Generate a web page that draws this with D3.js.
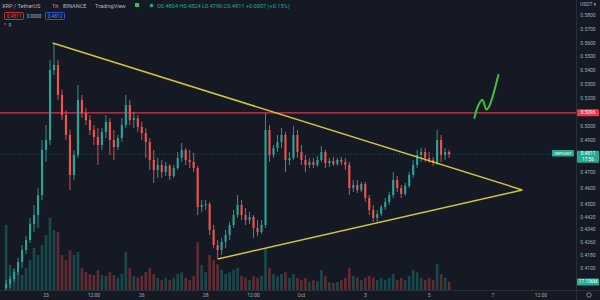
<!DOCTYPE html>
<html>
<head>
<meta charset="utf-8">
<script src="https://cdn.jsdelivr.net/npm/d3@7"></script>
<style>
  html, body { margin: 0; padding: 0; background: #151924; }
  svg { display: block; }
  text { font-family: Roboto, "Noto Sans", "DejaVu Sans", sans-serif; }
</style>
</head>
<body>
<svg id="chart" width="600" height="300"></svg>
<script>
// XRP / TetherUS, 3-hour bars from 21 Sep 2022 18:00 UTC
const startTime = Date.UTC(2022, 8, 21, 18);
const stepHours = 3;
const firstOpen = 0.3975;
const closes = [0.4000,0.4031,0.4075,0.4138,0.4213,0.4275,0.4375,0.4431,0.4556,0.4838,
  0.4900,0.5404,0.5440,0.5224,0.5080,0.4936,0.4681,0.4806,0.5188,0.5094,
  0.5044,0.4972,0.4922,0.4869,0.4958,0.5030,0.4900,0.4856,0.4914,0.5008,
  0.5152,0.5044,0.5058,0.4994,0.4950,0.4888,0.4775,0.4713,0.4744,0.4700,
  0.4738,0.4675,0.4725,0.4788,0.4838,0.4775,0.4763,0.4725,0.4481,0.4494,
  0.4500,0.4338,0.4244,0.4213,0.4263,0.4306,0.4369,0.4431,0.4494,0.4431,
  0.4400,0.4419,0.4350,0.4325,0.4369,0.4972,0.4806,0.4850,0.4888,0.4936,
  0.4775,0.4788,0.4936,0.4825,0.4775,0.4744,0.4763,0.4744,0.4775,0.4825,
  0.4756,0.4769,0.4750,0.4775,0.4763,0.4744,0.4600,0.4619,0.4588,0.4625,
  0.4538,0.4463,0.4413,0.4438,0.4481,0.4513,0.4556,0.4650,0.4600,0.4563,
  0.4613,0.4681,0.4744,0.4806,0.4825,0.4788,0.4775,0.4756,0.4900,0.4806,
  0.4825,0.4811];
const highs = [0.4025,0.4050,0.4100,0.4163,0.4244,0.4300,0.4413,0.4494,0.4600,0.4900,
  0.5008,0.5476,0.5598,0.5476,0.5260,0.5116,0.4972,0.4838,0.5296,0.5224,
  0.5130,0.5080,0.5008,0.4986,0.4986,0.5080,0.5058,0.4972,0.4936,0.5058,
  0.5224,0.5188,0.5102,0.5080,0.5030,0.4986,0.4914,0.4838,0.4788,0.4775,
  0.4763,0.4750,0.4744,0.4825,0.4881,0.4850,0.4838,0.4819,0.4738,0.4525,
  0.4525,0.4513,0.4369,0.4275,0.4288,0.4338,0.4388,0.4463,0.4556,0.4525,
  0.4475,0.4450,0.4431,0.4400,0.4400,0.5094,0.5008,0.4869,0.4936,0.4986,
  0.4958,0.4825,0.5001,0.4972,0.4869,0.4806,0.4788,0.4788,0.4800,0.4862,
  0.4838,0.4788,0.4794,0.4788,0.4794,0.4788,0.4763,0.4650,0.4650,0.4638,
  0.4638,0.4556,0.4494,0.4463,0.4494,0.4538,0.4575,0.4700,0.4675,0.4619,
  0.4631,0.4700,0.4775,0.4838,0.4850,0.4850,0.4825,0.4794,0.4972,0.4936,
  0.4850,0.4838];
const lows = [0.3950,0.3975,0.4013,0.4056,0.4100,0.4188,0.4256,0.4325,0.4350,0.4525,
  0.4763,0.4869,0.5368,0.5188,0.5044,0.4900,0.4588,0.4650,0.4788,0.5058,
  0.5008,0.4936,0.4869,0.4744,0.4838,0.4914,0.4806,0.4775,0.4838,0.4888,
  0.4986,0.5008,0.4986,0.4958,0.4900,0.4788,0.4713,0.4631,0.4663,0.4663,
  0.4675,0.4650,0.4663,0.4713,0.4763,0.4744,0.4725,0.4700,0.4431,0.4450,
  0.4463,0.4306,0.4225,0.4163,0.4181,0.4225,0.4275,0.4350,0.4413,0.4400,
  0.4369,0.4375,0.4288,0.4300,0.4313,0.4350,0.4763,0.4788,0.4825,0.4850,
  0.4700,0.4744,0.4775,0.4788,0.4744,0.4700,0.4725,0.4725,0.4731,0.4763,
  0.4725,0.4731,0.4738,0.4738,0.4744,0.4713,0.4556,0.4575,0.4569,0.4575,
  0.4513,0.4431,0.4388,0.4388,0.4425,0.4463,0.4494,0.4538,0.4575,0.4538,
  0.4550,0.4600,0.4663,0.4725,0.4763,0.4763,0.4756,0.4738,0.4744,0.4763,
  0.4775,0.4788];
// volume in millions of XRP
const volumes = [139,53,43,38,32,47,64,90,75,96,
  117,154,128,124,75,64,85,75,81,47,
  38,34,32,43,32,30,38,32,26,34,
  81,47,30,26,30,38,47,34,26,21,
  26,21,26,34,38,26,21,30,102,53,
  38,75,64,55,43,34,38,43,47,30,
  26,21,30,26,30,90,47,34,30,34,
  38,26,34,26,21,26,17,21,19,43,
  30,17,15,17,21,26,47,30,26,21,
  26,30,26,21,26,21,26,34,21,26,
  21,30,43,38,26,21,26,21,55,34,
  26,17.196];

// axis labels
const priceTicks = [0.58,0.57,0.56,0.55,0.54,0.53,0.52,0.50,0.49,0.47,0.46,0.45,0.442,0.434,0.426,0.418,0.41];
const timeTicks = [
  [Date.UTC(2022,8,23), "23"], [Date.UTC(2022,8,24,12), "12:00"], [Date.UTC(2022,8,26), "26"],
  [Date.UTC(2022,8,28), "28"], [Date.UTC(2022,8,29,12), "12:00"], [Date.UTC(2022,9,1), "Oct"],
  [Date.UTC(2022,9,3), "3"], [Date.UTC(2022,9,5), "5"], [Date.UTC(2022,9,7), "7"], [Date.UTC(2022,9,8,12), "12:00"]
];

// drawings: horizontal resistance, symmetrical triangle, projected move
const resistance = 0.5096;
const lastPrice = 0.4811;
const lastVolume = 17.196;
const triangleUpper = [[Date.UTC(2022,8,23,5), 0.5598], [Date.UTC(2022,9,7,22), 0.4588]];
const triangleLower = [[Date.UTC(2022,8,28,9), 0.4156], [Date.UTC(2022,9,7,22), 0.4588]];
const projection = [[Date.UTC(2022,9,6,10), 0.5059], [Date.UTC(2022,9,6,13), 0.5150], [Date.UTC(2022,9,6,16), 0.5189],
  [Date.UTC(2022,9,6,19), 0.5120], [Date.UTC(2022,9,6,21), 0.5140], [Date.UTC(2022,9,7,4), 0.5368]];

const W = 600, H = 300, axisX = 576, axisY = 290;
const UP = "#26a69a", DOWN = "#ef5350", TXT = "#a7aab3";

const x = d3.scaleUtc().domain([Date.UTC(2022,8,23), Date.UTC(2022,9,7)]).range([46, 493]);
const y = d3.scaleLinear().domain([0.41, 0.49, 0.58]).range([268, 140, 15]);
const v = d3.scaleLinear().domain([0, 160]).range([axisY, 215]);

const bars = closes.map((c, i) => {
  const o = i === 0 ? firstOpen : closes[i - 1];
  return {
    t: startTime + i * stepHours * 3600e3,
    o, c,
    h: Math.max(highs[i], o, c),
    l: Math.min(lows[i], o, c),
    vol: volumes[i]
  };
});

const svg = d3.select("#chart");
svg.append("rect").attr("width", W).attr("height", H).attr("fill", "#151924");

const defs = svg.append("defs");
defs.append("clipPath").attr("id", "pane").append("rect")
  .attr("x", 0).attr("y", 0).attr("width", axisX).attr("height", axisY);

const pane = svg.append("g").attr("clip-path", "url(#pane)");

// volume histogram
pane.append("g").selectAll("rect").data(bars).join("rect")
  .attr("x", d => x(d.t) - 1.3)
  .attr("width", 2.6)
  .attr("y", d => v(d.vol))
  .attr("height", d => axisY - v(d.vol))
  .attr("fill", d => d.c >= d.o ? UP : DOWN)
  .attr("opacity", 0.34);

// last price line
pane.append("line")
  .attr("x1", 0).attr("x2", axisX)
  .attr("y1", y(lastPrice)).attr("y2", y(lastPrice))
  .attr("stroke", UP).attr("stroke-opacity", 0.4)
  .attr("stroke-dasharray", "1,2").attr("stroke-width", 1);

// resistance line
pane.append("line")
  .attr("x1", 0).attr("x2", axisX)
  .attr("y1", y(resistance)).attr("y2", y(resistance))
  .attr("stroke", "#d9344f").attr("stroke-width", 1.3);

// candles
const candles = pane.append("g").selectAll("g").data(bars).join("g");
candles.append("line")
  .attr("x1", d => x(d.t)).attr("x2", d => x(d.t))
  .attr("y1", d => y(d.h)).attr("y2", d => y(d.l))
  .attr("stroke", d => d.c >= d.o ? UP : DOWN).attr("stroke-width", 0.9);
candles.append("rect")
  .attr("x", d => x(d.t) - 1.05).attr("width", 2.1)
  .attr("y", d => y(Math.max(d.o, d.c)))
  .attr("height", d => Math.max(1, Math.abs(y(d.o) - y(d.c))))
  .attr("fill", d => d.c >= d.o ? UP : DOWN);

// triangle
const seg = d3.line().x(d => x(d[0])).y(d => y(d[1]));
[triangleUpper, triangleLower].forEach(pts => {
  pane.append("path").attr("d", seg(pts))
    .attr("fill", "none").attr("stroke", "#d2c43c").attr("stroke-width", 1.5);
});

// projected breakout
pane.append("path")
  .attr("d", d3.line().x(d => x(d[0])).y(d => y(d[1])).curve(d3.curveCatmullRom)(projection))
  .attr("fill", "none").attr("stroke", "#3fc23a").attr("stroke-width", 2)
  .attr("stroke-linecap", "round").attr("stroke-linejoin", "round");

// axes frames
svg.append("line").attr("x1", axisX + 0.5).attr("x2", axisX + 0.5).attr("y1", 0).attr("y2", H)
  .attr("stroke", "#2a2e39");
svg.append("line").attr("x1", 0).attr("x2", W).attr("y1", axisY + 0.5).attr("y2", axisY + 0.5)
  .attr("stroke", "#2a2e39");

// price axis labels
svg.append("g").selectAll("text").data(priceTicks).join("text")
  .attr("x", 588).attr("y", d => y(d)).attr("dy", "0.35em")
  .attr("text-anchor", "middle").attr("font-size", 5).attr("fill", TXT)
  .text(d => d.toFixed(4));
svg.append("text").attr("x", 580).attr("y", 6).attr("font-size", 5).attr("fill", TXT).text("USDT ▾");

// time axis labels
svg.append("g").selectAll("text").data(timeTicks).join("text")
  .attr("x", d => x(d[0])).attr("y", 297)
  .attr("text-anchor", "middle").attr("font-size", 5).attr("fill", TXT)
  .text(d => d[1]);
svg.append("circle").attr("cx", 589).attr("cy", 295).attr("r", 2.2)
  .attr("fill", "none").attr("stroke", TXT).attr("stroke-width", 0.7);

// price tags on the axis
function tag(yc, h, fill, lines) {
  svg.append("rect").attr("x", axisX + 1).attr("y", yc - h / 2).attr("width", 22).attr("height", h)
    .attr("fill", fill).attr("rx", 0.8);
  lines.forEach((t, k) => {
    svg.append("text").attr("x", 588).attr("y", yc - h / 2 + 4.6 + k * 5.6)
      .attr("text-anchor", "middle").attr("font-size", 4.8).attr("fill", "#ffffff").text(t);
  });
}
tag(y(resistance), 7, "#f23645", [resistance.toFixed(4)]);
tag(y(lastPrice) + 2.5, 12, "#22ab94", [lastPrice.toFixed(4), "17:56"]);
tag(v(lastVolume), 7, "#22ab94", [lastVolume.toFixed(3) + "M"]);

// symbol tag next to the axis
svg.append("rect").attr("x", 552).attr("y", y(lastPrice) - 4.2).attr("width", 22).attr("height", 6.5)
  .attr("fill", "#22ab94").attr("rx", 0.8);
svg.append("text").attr("x", 563).attr("y", y(lastPrice) + 0.6).attr("text-anchor", "middle")
  .attr("font-size", 4).attr("fill", "#ffffff").text("XRPUSDT");

// legend
const legend = svg.append("g").attr("font-size", 5.6).attr("fill", "#b2b5be");
[["XRP / TetherUS", 2], ["1h", 52], ["BINANCE", 63], ["TradingView", 95]].forEach(([t, px]) => {
  legend.append("text").attr("x", px).attr("y", 8).text(t);
});
svg.append("rect").attr("x", 135).attr("y", 3).attr("width", 4).attr("height", 4).attr("fill", "#3fbf5a").attr("rx", 0.6);
svg.append("circle").attr("cx", 151.5).attr("cy", 5.5).attr("r", 1.8).attr("fill", UP);
svg.append("text").attr("x", 157).attr("y", 8).attr("font-size", 5.6).attr("fill", UP)
  .text("O0.4804 H0.4824 L0.4790 C0.4811 +0.0007 (+0.15%)");

svg.append("rect").attr("x", 4.5).attr("y", 12.5).attr("width", 19).attr("height", 7)
  .attr("fill", "none").attr("stroke", "#f23645").attr("stroke-width", 0.8).attr("rx", 1);
svg.append("text").attr("x", 14).attr("y", 17.8).attr("text-anchor", "middle").attr("font-size", 4.8)
  .attr("fill", "#f23645").text("0.4811");
svg.append("text").attr("x", 34).attr("y", 17.8).attr("text-anchor", "middle").attr("font-size", 4.8)
  .attr("fill", "#b2b5be").text("0.0000");
svg.append("rect").attr("x", 45.5).attr("y", 12.5).attr("width", 19).attr("height", 7)
  .attr("fill", "none").attr("stroke", "#2962ff").attr("stroke-width", 0.8).attr("rx", 1);
svg.append("text").attr("x", 55).attr("y", 17.8).attr("text-anchor", "middle").attr("font-size", 4.8)
  .attr("fill", "#5b8cff").text("0.4812");
svg.append("text").attr("x", 3).attr("y", 27).attr("font-size", 5).attr("fill", "#b2b5be").text("⌃ 9");
</script>
</body>
</html>
